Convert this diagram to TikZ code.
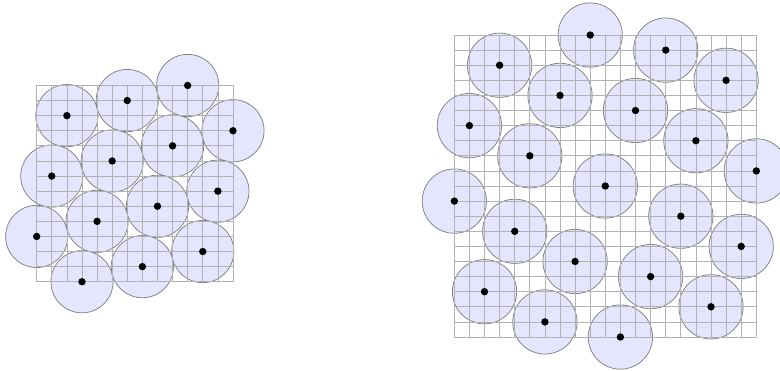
\documentclass[tikz,border=0pt]{standalone}
\begin{document}
\begin{tikzpicture}[
    x=5mm, y=5mm,
    lattice/.style={draw=gray!60, line width=0.7pt, step=5mm},
    disk/.style={draw=gray, fill=blue!10, line width=0.7pt},
    centre/.style={fill=black}
  ]
  \useasboundingbox (0,0) rectangle (51.66,24.57);

  % left: close packing on a 13x13 grid
  \begin{scope}[shift={(2.43,5.91)}]
    \def\centres{2/11,6/12,10/13,13/10,1/7,5/8,9/9,12/6,0/3,4/4,8/5,11/2,3/0,7/1}
    \foreach \x/\y in \centres
      \draw[disk] (\x,\y) circle (2.06);
    \draw[lattice] (0,0) grid (13,13);
    \foreach \x/\y in \centres
      \fill[centre] (\x,\y) circle (0.245);
  \end{scope}

  % right: looser packing on a 20x20 grid
  \begin{scope}[shift={(30.09,2.25)}]
    \def\centres{9/20,14/19,3/18,18/17,7/16,12/15,1/14,16/13,5/12,20/11,10/10,
                 0/9,15/8,4/7,19/6,8/5,13/4,2/3,17/2,6/1,11/0}
    \foreach \x/\y in \centres
      \draw[disk] (\x,\y) circle (2.13);
    \draw[lattice] (0,0) grid (20,20);
    \foreach \x/\y in \centres
      \fill[centre] (\x,\y) circle (0.245);
  \end{scope}
\end{tikzpicture}
\end{document}
